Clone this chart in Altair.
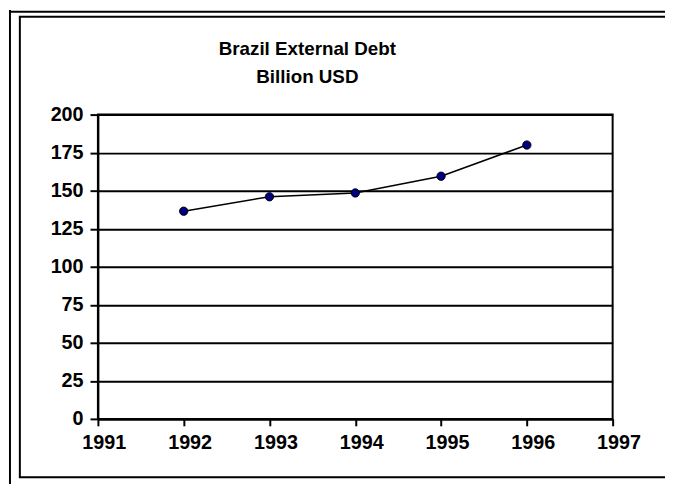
import altair as alt
import pandas as pd

years = [1992, 1993, 1994, 1995, 1996]
debt = [136.5, 146.0, 148.5, 159.5, 180.0]
x_ticks = [1991, 1992, 1993, 1994, 1995, 1996, 1997]
y_ticks = [0, 25, 50, 75, 100, 125, 150, 175, 200]
title_lines = ["Brazil External Debt", "Billion USD"]

FONT = "Liberation Sans"
W, H = 521, 308

df = pd.DataFrame({"year": years, "debt": debt})

x_enc = alt.X(
    "year:Q",
    scale=alt.Scale(domain=[1991, 1997], nice=False, zero=False),
    axis=alt.Axis(
        values=x_ticks, format="d", title=None, grid=False,
        domainColor="black", domainWidth=2, tickColor="black", tickWidth=2,
        tickSize=7, labelFont=FONT, labelFontSize=20, labelFontWeight="bold",
        labelColor="black", labelPadding=7, labelOffset=6, labelFlush=False,
        labelOverlap=False,
    ),
)
y_enc = alt.Y(
    "debt:Q",
    scale=alt.Scale(domain=[0, 200], nice=False),
    axis=alt.Axis(
        values=y_ticks, title=None, grid=True, gridColor="black", gridWidth=2,
        gridOpacity=1, domainColor="black", domainWidth=2, tickColor="black",
        tickWidth=2, tickSize=8, labelFont=FONT, labelFontSize=20,
        labelFontWeight="bold", labelColor="black", labelPadding=7,
        labelOverlap=False,
    ),
)

series = alt.Chart(df).mark_line(
    color="black", strokeWidth=1.5,
    point=alt.OverlayMarkDef(filled=True, fill="#000080", stroke="black",
                             strokeWidth=1, size=70, opacity=1),
).encode(x=x_enc, y=y_enc)

bdf = pd.DataFrame({"k": [0]})

def title_line(txt, ypx):
    return alt.Chart(bdf).mark_text(
        text=txt, font=FONT, fontSize=19, fontWeight="bold", color="black",
        baseline="alphabetic", align="center",
    ).encode(x=alt.value(212), y=alt.value(ypx))

def rule(x1, x2, y1, y2, w=2):
    return alt.Chart(bdf).mark_rule(color="black", strokeWidth=w).encode(
        x=alt.value(x1), x2=alt.value(x2), y=alt.value(y1), y2=alt.value(y2)
    )

borders = [
    rule(-89, -89, -106, 380),   # outer left
    rule(-90, 600, -104, -104),  # outer top
    rule(-79, -79, -99, 367),    # inner left
    rule(-80, 600, -99, -99),    # inner top
    rule(-80, 600, 367, 367),    # inner bottom
]

chart = alt.layer(
    series, *borders, title_line(title_lines[0], -60), title_line(title_lines[1], -32)
).properties(
    width=W, height=H,
    autosize=alt.AutoSizeParams(type="none"),
    padding={"left": 91, "top": 105, "right": 53, "bottom": 63},
    background="white",
).configure_view(stroke="black", strokeWidth=2)

chart.save("out.html", embed_options={"renderer": "svg", "actions": False})
